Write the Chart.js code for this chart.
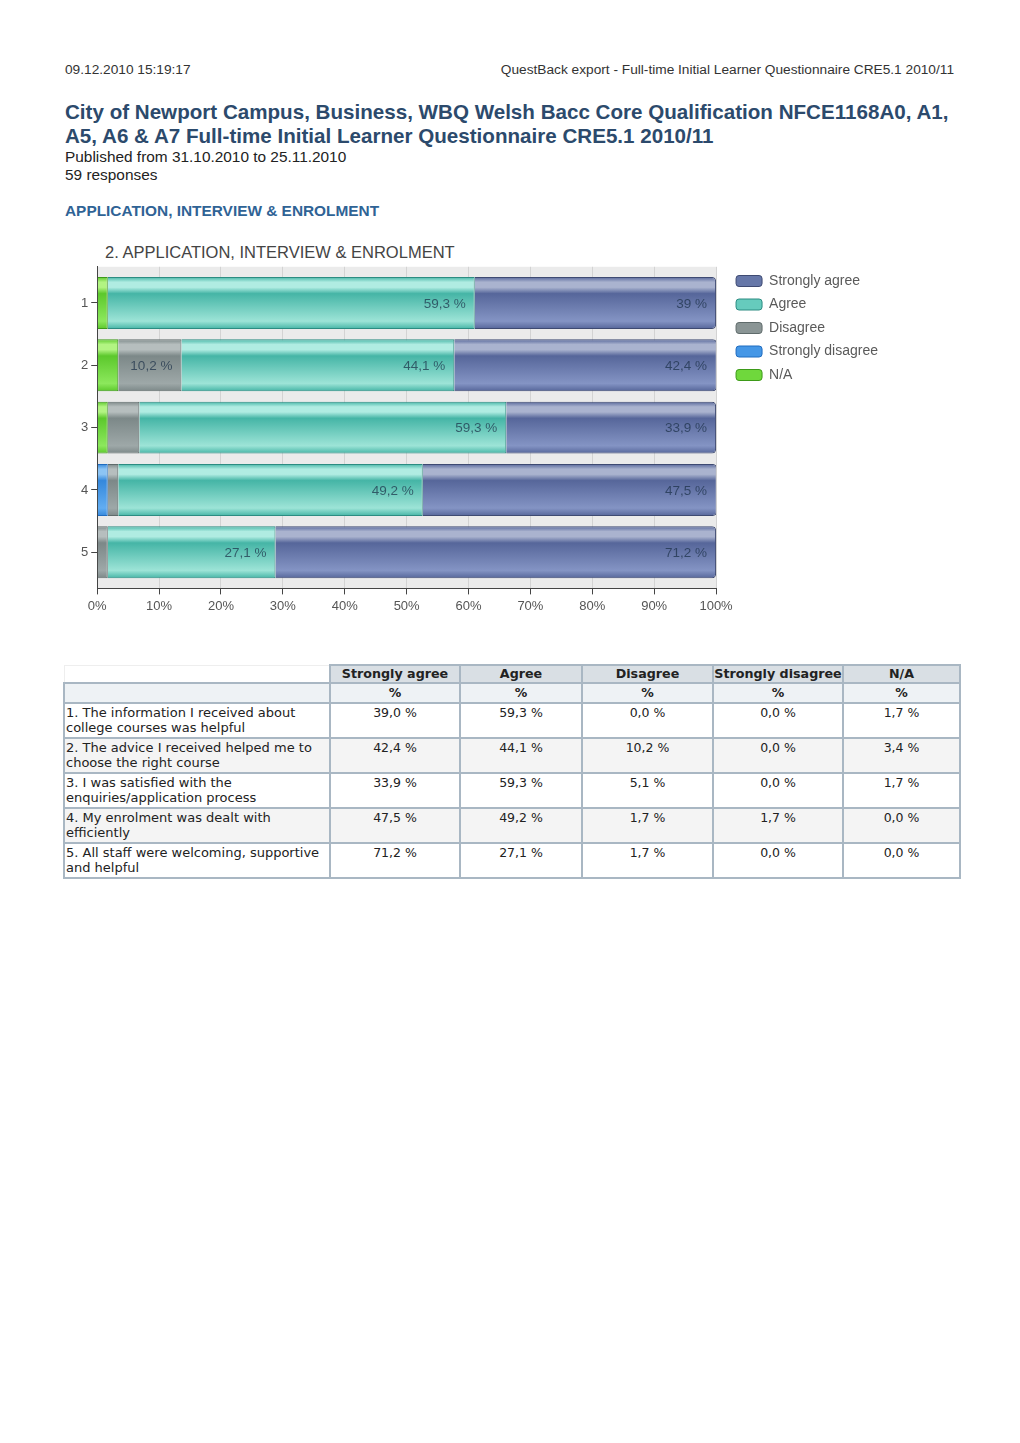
<!DOCTYPE html>
<html><head><meta charset="utf-8">
<script src="https://cdn.jsdelivr.net/npm/chart.js@4.4.0/dist/chart.umd.min.js"></script>
<style>
body{margin:0;background:#fff;width:1020px;height:1443px;position:relative;font-family:"Liberation Sans",Arial,sans-serif;color:#222;}
.abs{position:absolute;white-space:nowrap;}
#hdrL{left:65px;top:62px;font-size:13.7px;color:#333;}
#hdrR{right:66px;top:62px;font-size:13.7px;color:#333;}
#title{left:65px;top:100px;font-size:20.6px;font-weight:bold;color:#2c4a6c;line-height:24px;}
#pub{left:65px;top:148px;font-size:15.4px;line-height:18px;color:#222;}
#sect{left:65px;top:202px;font-size:15.4px;font-weight:bold;color:#2f6395;}
#ctitle{left:105px;top:243px;font-size:16.5px;color:#444;}
#chartBox{position:absolute;left:60px;top:256px;width:828px;height:362px;}
table{position:absolute;left:63px;top:664px;width:896px;border-collapse:collapse;font-family:"DejaVu Sans",Verdana,sans-serif;font-size:13px;table-layout:fixed;}
td,th{border:2px solid #a9b7c3;padding:1px 1px;vertical-align:top;line-height:15px;}
th{background:#d9dfe4;font-weight:bold;text-align:center;height:16px;padding:0;font-size:12.7px;white-space:nowrap;overflow:hidden;}
th.blank{background:#fff;border:1px solid #eeeeee;border-bottom:2px solid #a9b7c3;}
tr.pct td{background:#eef2f5;font-weight:bold;text-align:center;height:16px;font-size:12.5px;}
td.v{text-align:center;font-size:12.5px;}
tr.alt td{background:#f4f4f4;}
tr.data td{height:31px;}
</style></head><body>
<div class="abs" id="hdrL">09.12.2010 15:19:17</div>
<div class="abs" id="hdrR">QuestBack export - Full-time Initial Learner Questionnaire CRE5.1 2010/11</div>
<div class="abs" id="title">City of Newport Campus, Business, WBQ Welsh Bacc Core Qualification NFCE1168A0, A1,<br>A5, A6 &amp; A7 Full-time Initial Learner Questionnaire CRE5.1 2010/11</div>
<div class="abs" id="pub">Published from 31.10.2010 to 25.11.2010<br>59 responses</div>
<div class="abs" id="sect">APPLICATION, INTERVIEW &amp; ENROLMENT</div>
<div class="abs" id="ctitle">2. APPLICATION, INTERVIEW &amp; ENROLMENT</div>
<div id="chartBox"><canvas id="c"></canvas></div>
<table id="tbl"></table>
<script>
// ---- data ----
const categories = ['1', '2', '3', '4', '5'];
const questions = [
  '1. The information I received about college courses was helpful',
  '2. The advice I received helped me to choose the right course',
  '3. I was satisfied with the enquiries/application process',
  '4. My enrolment was dealt with efficiently',
  '5. All staff were welcoming, supportive and helpful'
];
const seriesNames = ['Strongly agree', 'Agree', 'Disagree', 'Strongly disagree', 'N/A'];
const stronglyAgree = [39.0, 42.4, 33.9, 47.5, 71.2];
const agree = [59.3, 44.1, 59.3, 49.2, 27.1];
const disagree = [0.0, 10.2, 5.1, 1.7, 1.7];
const stronglyDisagree = [0.0, 0.0, 0.0, 1.7, 0.0];
const notApplicable = [1.7, 3.4, 1.7, 0.0, 0.0];
const xTickValues = [0, 10, 20, 30, 40, 50, 60, 70, 80, 90, 100];

// ---- styles ----
const palette = {
  'Strongly agree':   {edge:'#3e4a72', hi:'#aab3cf', dark:'#56669a', light:'#8494c4', flat:'#6677a8'},
  'Agree':            {edge:'#2c8c82', hi:'#b0ece2', dark:'#45b5a6', light:'#9de4d7', flat:'#66cbbd'},
  'Disagree':         {edge:'#5f6b6b', hi:'#b6bebe', dark:'#7c8888', light:'#9ea8a8', flat:'#8a9595'},
  'Strongly disagree':{edge:'#1f6cc0', hi:'#8cc4f4', dark:'#3488dc', light:'#62adf2', flat:'#4597e6'},
  'N/A':              {edge:'#3d9a18', hi:'#b2f482', dark:'#5cc82c', light:'#8ce85c', flat:'#6fd83c'}
};
const BAR_PCT = 0.833;
function gradFor(name) {
  const p = palette[name];
  return function(ctx) {
    const ch = ctx.chart;
    if (!ch.chartArea || ctx.dataIndex === undefined || !ch.scales.y) return p.flat;
    const ys = ch.scales.y;
    const c = ys.getPixelForValue(Number(categories[ctx.dataIndex]));
    const h = Math.abs(ys.getPixelForValue(1) - ys.getPixelForValue(0)) * BAR_PCT;
    const g = ch.ctx.createLinearGradient(0, c - h / 2, 0, c + h / 2);
    g.addColorStop(0, p.dark);
    g.addColorStop(0.1, p.hi);
    g.addColorStop(0.2, p.hi);
    g.addColorStop(0.32, p.dark);
    g.addColorStop(0.85, p.light);
    g.addColorStop(1, p.dark);
    return g;
  };
}
const seriesValues = {
  'Strongly agree': stronglyAgree, 'Agree': agree, 'Disagree': disagree,
  'Strongly disagree': stronglyDisagree, 'N/A': notApplicable
};
const stackOrder = ['N/A', 'Strongly disagree', 'Disagree', 'Agree', 'Strongly agree'];
const datasets = stackOrder.map((name) => ({
  label: name,
  data: seriesValues[name],
  backgroundColor: gradFor(name),
  borderColor: palette[name].edge,
  borderWidth: 1,
  borderSkipped: 'start',
  borderRadius: name === 'Strongly agree' ? {topRight: 4, bottomRight: 4, topLeft: 0, bottomLeft: 0} : 0,
  barPercentage: BAR_PCT,
  categoryPercentage: 1.0
}));

function fmt(v) { return String(Math.round(v * 10) / 10).replace('.', ','); }

const bgPlugin = {
  id: 'plotBg',
  beforeDraw(chart) {
    const {ctx, chartArea: a} = chart;
    ctx.save();
    ctx.fillStyle = '#ebebeb';
    ctx.fillRect(a.left, a.top, a.right - a.left, a.bottom - a.top);
    ctx.restore();
  }
};
const labelPlugin = {
  id: 'barLabels',
  afterDatasetsDraw(chart) {
    const ctx = chart.ctx;
    ctx.save();
    ctx.font = '13.5px "Liberation Sans", Arial, sans-serif';
    ctx.textAlign = 'right';
    ctx.textBaseline = 'middle';
    ctx.fillStyle = 'rgba(28,48,72,0.72)';
    chart.data.datasets.forEach((ds, di) => {
      const meta = chart.getDatasetMeta(di);
      meta.data.forEach((el, i) => {
        const v = ds.data[i];
        if (v >= 10) {
          const xEnd = Math.min(el.x, chart.chartArea.right);
          ctx.fillText(fmt(v) + ' %', xEnd - 9, el.y + 1);
        }
      });
    });
    ctx.restore();
  }
};
const spacer = (pos, size) => ({
  type: 'linear', position: pos, display: true,
  ticks: {display: false}, grid: {display: false}, border: {display: false},
  afterFit(s) { if (pos === 'right') s.width = size; else s.height = size; }
});

new Chart(document.getElementById('c'), {
  type: 'bar',
  data: {labels: categories, datasets: datasets},
  plugins: [bgPlugin, labelPlugin],
  options: {
    indexAxis: 'y',
    responsive: true,
    maintainAspectRatio: false,
    animation: false,
    layout: {padding: {left: 18, top: 8.5, right: 0, bottom: 0}},
    scales: {
      x: {
        stacked: true, min: 0, max: 100,
        afterBuildTicks(scale) { scale.ticks = xTickValues.map(v => ({value: v})); },
        ticks: {callback: v => v + '%', color: '#555', font: {family: '"Liberation Sans", Arial, sans-serif', size: 13}, padding: 4, maxRotation: 0},
        grid: {color: '#d3d3d3', tickColor: '#444', tickLength: 6, lineWidth: 1},
        border: {color: '#444', width: 1}
      },
      y: {
        type: 'linear', stacked: true, reverse: true, min: 0.42, max: 5.58, offset: false,
        afterBuildTicks(scale) { scale.ticks = categories.map(c => ({value: Number(c)})); },
        ticks: {callback: v => String(v), color: '#555', font: {family: '"Liberation Sans", Arial, sans-serif', size: 13}, padding: 3},
        grid: {drawOnChartArea: false, tickColor: '#444', tickLength: 6, offset: false},
        border: {color: '#444', width: 1}
      },
      gapRight: spacer('right', 10.5)
    },
    plugins: {
      title: {display: false},
      tooltip: {enabled: false},
      legend: {
        position: 'right', align: 'start', reverse: true, maxWidth: 180,
        labels: {
          boxWidth: 26, boxHeight: 11, padding: 9.5,
          useBorderRadius: true, borderRadius: 3,
          color: '#5a5a5a',
          font: {family: '"Liberation Sans", Arial, sans-serif', size: 14},
          generateLabels(chart) {
            return chart.data.datasets.map((ds, i) => ({
              text: ds.label,
              fillStyle: palette[ds.label].flat,
              strokeStyle: palette[ds.label].edge,
              lineWidth: 1,
              fontColor: '#5a5a5a',
              hidden: false,
              datasetIndex: i,
              borderRadius: 3
            }));
          }
        }
      }
    }
  }
});

// ---- table ----
const tbl = document.getElementById('tbl');
let html = '<colgroup><col style="width:266px"><col style="width:130px"><col style="width:122px"><col style="width:131px"><col style="width:130px"><col style="width:117px"></colgroup>';
html += '<tr><th class="blank"></th>' + seriesNames.map(n => '<th>' + n + '</th>').join('') + '</tr>';
html += '<tr class="pct"><td></td>' + seriesNames.map(() => '<td>%</td>').join('') + '</tr>';
questions.forEach((q, i) => {
  html += '<tr class="data' + (i % 2 === 1 ? ' alt' : '') + '"><td>' + q + '</td>' +
    seriesNames.map(n => '<td class="v">' + seriesValues[n][i].toFixed(1).replace('.', ',') + ' %</td>').join('') + '</tr>';
});
tbl.innerHTML = html;
</script>
</body></html>
